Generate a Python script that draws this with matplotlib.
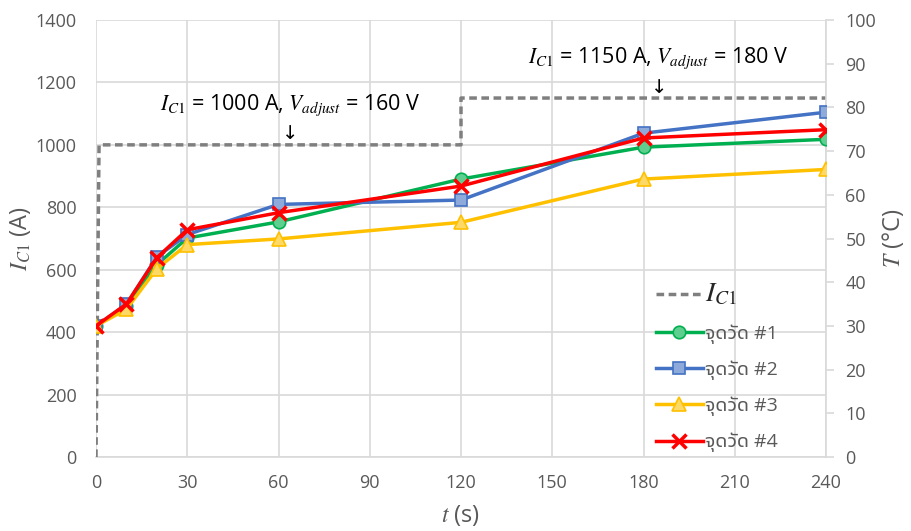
import matplotlib
matplotlib.use("Agg")
import matplotlib.pyplot as plt
from matplotlib.lines import Line2D

plt.rcParams['font.family'] = ['Open Sans', 'DejaVu Sans']
plt.rcParams['mathtext.fontset'] = 'stix'

# current step (left axis, A)
t_cur = [0, 1, 120, 120, 240]
i_cur = [0, 1000, 1000, 1150, 1150]

# temperatures (right axis, degC)
t = [0, 10, 20, 30, 60, 120, 180, 240]
temp1 = [30, 34.6, 44.0, 50.1, 53.8, 63.6, 70.9, 72.7]
temp2 = [30, 34.9, 45.8, 50.9, 57.8, 58.8, 74.1, 78.9]
temp3 = [30, 33.8, 43.1, 48.6, 49.9, 53.7, 63.6, 65.8]
temp4 = [30, 35.0, 45.6, 52.0, 55.9, 62.0, 73.0, 74.9]
labels = ['จุดวัด #1', 'จุดวัด #2', 'จุดวัด #3', 'จุดวัด #4']

xticks = [0, 30, 60, 90, 120, 150, 180, 210, 240]

grey = '#595959'
fig = plt.figure(figsize=(9.11, 5.31), dpi=100)
ax = fig.add_axes([96 / 911, 74 / 531, 730 / 911, 437 / 531])
ax2 = ax.twinx()

ax.plot(t_cur, i_cur, color='#7f7f7f', lw=2.5, ls=(0, (2.2, 1.3)), zorder=3)
ax.set_xlim(0, 240)
ax.set_ylim(0, 1400)
ax.set_xticks(xticks)
ax.set_yticks(range(0, 1401, 200))
ax.grid(True, color='#d9d9d9', lw=1.2)
ax.set_axisbelow(True)
for s in ['top', 'left', 'right']:
    ax.spines[s].set_visible(False)
ax.spines['bottom'].set_color('#d9d9d9')
ax.spines['bottom'].set_linewidth(1.2)
ax.tick_params(axis='both', length=0, labelsize=13, labelcolor=grey)
ax.tick_params(axis='y', pad=14)
ax.tick_params(axis='x', pad=12)

ax2.set_ylim(0, 100)
ax2.set_yticks(range(0, 101, 10))
for s in ['top', 'left', 'bottom']:
    ax2.spines[s].set_visible(False)
ax2.spines['right'].set_color('#d9d9d9')
ax2.spines['right'].set_linewidth(1.2)
ax2.tick_params(axis='y', length=6, color='#d9d9d9', width=1.2, labelsize=13, labelcolor=grey, pad=8)

styles = [
    (temp1, '#00b050', 'o', '#5fcf8f', 9),
    (temp2, '#4472c4', 's', '#8eaadb', 9),
    (temp3, '#ffc000', '^', '#ffd966', 10),
    (temp4, '#ff0000', 'x', '#ff0000', 10),
]
handles = [Line2D([], [], color='#7f7f7f', lw=2.5, ls=(0, (2.2, 1.3)), label=r'$I_{\mathit{C1}}$')]
for (y, c, m, fc, ms), lab in zip(styles, labels):
    h, = ax2.plot(t, y, color=c, lw=2.5, marker=m, ms=ms, mfc=fc, mec=c, mew=1.2 if m != 'x' else 2.5,
                  label=lab, zorder=4)
    handles.append(h)

leg = ax2.legend(handles=handles, loc='lower right', bbox_to_anchor=(0.955, -0.025), frameon=False,
                 handlelength=2.4, handletextpad=0.1, labelspacing=0.85, borderpad=0.3,
                 prop={'family': ['Noto Sans Thai UI', 'Open Sans'], 'size': 14})
for txt in leg.get_texts():
    txt.set_color(grey)
leg.get_texts()[0].set_fontsize(20)
leg.get_texts()[0].set_color('#262626')

ax.set_ylabel(r'$I_{\mathit{C1}}$ (A)', fontsize=17, color=grey, labelpad=2)
ax2.set_ylabel(r'$T$ (°C)', fontsize=17, color=grey, labelpad=3)
ax.set_xlabel(r'$t$ (s)', fontsize=17, color=grey, labelpad=8)

ax.text(64, 1128, r'$I_{\mathit{C1}}$ = 1000 A, $V_{\mathit{adjust}}$ = 160 V', fontsize=15.5,
        ha='center', va='center', color='black')
ax.text(64, 1035, '↓', fontsize=14, ha='center', va='center', family='DejaVu Sans')
ax.text(185, 1278, r'$I_{\mathit{C1}}$ = 1150 A, $V_{\mathit{adjust}}$ = 180 V', fontsize=15.5,
        ha='center', va='center', color='black')
ax.text(185, 1185, '↓', fontsize=14, ha='center', va='center', family='DejaVu Sans')

fig.savefig('out.png')
